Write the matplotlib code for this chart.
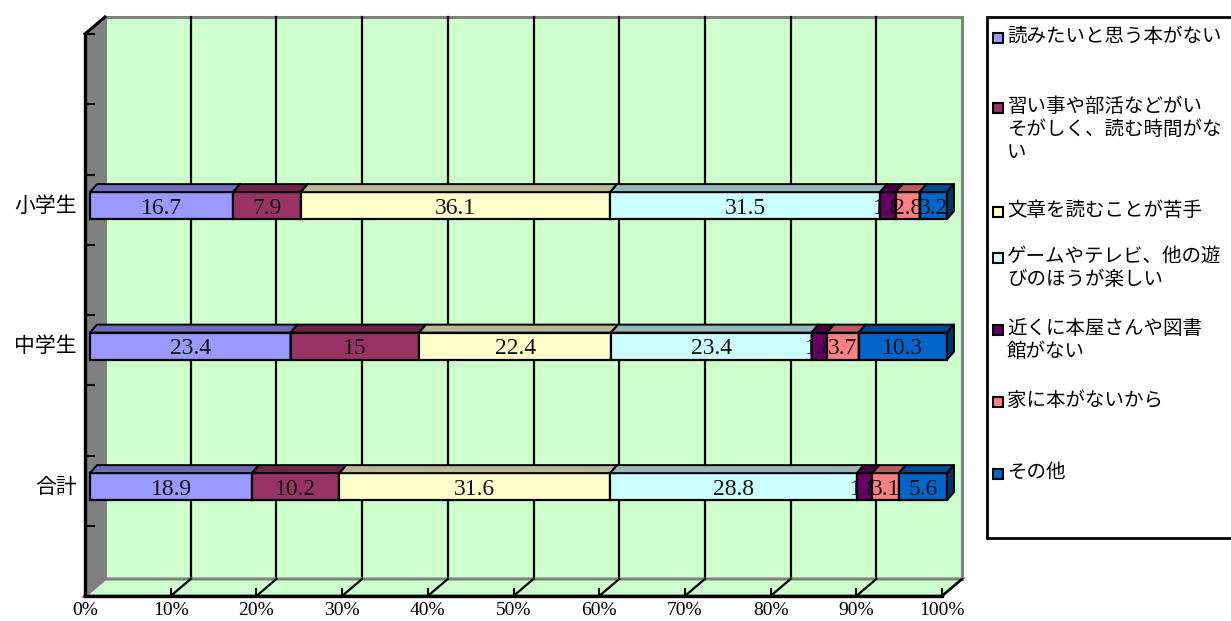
import matplotlib
matplotlib.use("Agg")
import matplotlib.pyplot as plt
import matplotlib.transforms as mtransforms
from matplotlib.patches import Rectangle, Polygon
from matplotlib.collections import PolyCollection
import numpy as np

# ---------------- data ----------------
categories = ["合計", "中学生", "小学生"]
series_names = [
    "読みたいと思う本がない",
    "習い事や部活などがい\nそがしく、読む時間がな\nい",
    "文章を読むことが苦手",
    "ゲームやテレビ、他の遊\nびのほうが楽しい",
    "近くに本屋さんや図書\n館がない",
    "家に本がないから",
    "その他",
]
# values per series, order follows categories (合計, 中学生, 小学生)
s_read_none = [18.9, 23.4, 16.7]
s_busy = [10.2, 15, 7.9]
s_poor = [31.6, 22.4, 36.1]
s_games = [28.8, 23.4, 31.5]
s_no_store = [1.8, 1.8, 1.8]
s_no_books = [3.1, 3.7, 2.8]
s_other = [5.6, 10.3, 3.2]
series_values = [s_read_none, s_busy, s_poor, s_games, s_no_store, s_no_books, s_other]
colors = ["#9999FF", "#993366", "#FFFFCC", "#CCFFFF", "#660066", "#FF8080", "#0066CC"]
xticks = list(range(0, 101, 10))
xtick_labels = [f"{t}%" for t in xticks]

# ---------------- layout ----------------
W, H = 1231, 621
DPI = 100
fig = plt.figure(figsize=(W / DPI, H / DPI), dpi=DPI)
fig.patch.set_facecolor("white")

fx0, fx1, fy_top, fy_bot = 85, 942, 34, 596
ax = fig.add_axes([fx0 / W, (H - fy_bot) / H, (fx1 - fx0) / W, (fy_bot - fy_top) / H])
ax.set_xlim(0, 100)
ax.set_ylim(0, 8)
ax.patch.set_visible(False)

px_x = 100 / (fx1 - fx0)
px_y = 8 / (fy_bot - fy_top)

# wall depth
DX, DY = 20 * px_x, 17 * px_y
green = "#CCFFCC"
gray = "#808080"

# back wall
ax.add_patch(Rectangle((DX, DY), 100, 8, facecolor=green, edgecolor=gray, lw=2.2,
                       zorder=0.5, clip_on=False))
for t in xticks[1:-1]:
    ax.plot([t + DX, t + DX], [DY, 8 + DY], color="black", lw=1.6, zorder=0.55, clip_on=False)
# floor
ax.add_patch(Polygon([(0, 0), (100, 0), (100 + DX, DY), (DX, DY)], closed=True,
                     facecolor=green, edgecolor=gray, lw=2.2, zorder=0.6, clip_on=False))
for t in xticks[1:]:
    ax.plot([t, t + DX], [0, DY], color="black", lw=1.6, zorder=0.65, clip_on=False)
# left wall
ax.add_patch(Polygon([(0, 0), (0, 8), (DX, 8 + DY), (DX, DY)], closed=True,
                     facecolor=gray, edgecolor=gray, lw=1.5, zorder=0.7, clip_on=False))
ax.plot([0, DX], [8, 8 + DY], color="black", lw=2.2, zorder=0.75, clip_on=False)

# spines / ticks
for s in ["top", "right"]:
    ax.spines[s].set_visible(False)
for s in ["left", "bottom"]:
    ax.spines[s].set_linewidth(2.4)
    ax.spines[s].set_color("black")
ax.set_xticks(xticks)
ax.set_xticklabels(xtick_labels, fontfamily="Liberation Serif", fontsize=14)
ax.tick_params(axis="x", direction="in", length=6, width=1.5, pad=4)
ax.set_yticks(range(0, 9))
ax.set_yticklabels([])
ax.tick_params(axis="y", direction="in", length=7, width=1.5)

# bars
front_t = ax.transData + mtransforms.ScaledTranslation(5 / DPI, 4 / DPI, fig.dpi_scale_trans)
ypos = np.array([1.5, 3.5, 5.5])
bh = 27 * px_y
ddx, ddy = 7 * px_x, 8 * px_y


def shade(c, f):
    r, g, b = matplotlib.colors.to_rgb(c)
    return (r * f, g * f, b * f)


left = np.zeros(len(categories))
for i, (vals, col) in enumerate(zip(series_values, colors)):
    vals = np.array(vals, dtype=float)
    z = 3 + 2 * i
    ax.barh(ypos, vals, left=left, height=bh, color=col, edgecolor="black",
            linewidth=1.6, transform=front_t, zorder=z, clip_on=False)
    tops, sides = [], []
    for y, L, v in zip(ypos, left, vals):
        R = L + v
        T = y + bh / 2
        B = y - bh / 2
        tops.append([(L, T), (R, T), (R + ddx, T + ddy), (L + ddx, T + ddy)])
        sides.append([(R, B), (R, T), (R + ddx, T + ddy), (R + ddx, B + ddy)])
    ax.add_collection(PolyCollection(tops, facecolors=[shade(col, 0.72)], edgecolors="black",
                                     linewidths=1.4, transform=front_t, zorder=z, clip_on=False))
    ax.add_collection(PolyCollection(sides, facecolors=[shade(col, 0.5)], edgecolors="black",
                                     linewidths=1.4, transform=front_t, zorder=z, clip_on=False))
    for y, L, v in zip(ypos, left, vals):
        ax.text(L + v / 2, y, f"{v:g}", ha="center", va="center_baseline",
                fontfamily="Liberation Serif", fontsize=17, color="#111111",
                transform=front_t, zorder=z + 1, clip_on=False)
    left = left + vals

# category labels
lab_t = mtransforms.blended_transform_factory(ax.transAxes, ax.transData) + \
    mtransforms.ScaledTranslation(-8 / DPI, 4 / DPI, fig.dpi_scale_trans)
for y, c in zip(ypos, categories):
    ax.text(0, y, c, ha="right", va="center", fontfamily="Noto Sans CJK JP",
            fontsize=15, transform=lab_t)

# legend (manual, Excel-like)
leg_x0, leg_top, leg_bot = 987, 17, 538
fig.patches.append(Rectangle((leg_x0 / W, (H - leg_bot) / H), (W + 10 - leg_x0) / W,
                             (leg_bot - leg_top) / H, transform=fig.transFigure,
                             facecolor="white", edgecolor="black", lw=2, zorder=1))
entry_y = [38, 108, 212, 258, 330, 402, 474]
for name, col, ey in zip(series_names, colors, entry_y):
    fig.patches.append(Rectangle((993 / W, (H - ey - 5) / H), 10 / W, 10 / H,
                                 transform=fig.transFigure, facecolor=col,
                                 edgecolor="black", lw=1.5, zorder=2))
    fig.text(1007 / W, (H - ey + 12) / H, name, ha="left", va="top",
             fontfamily="Noto Sans CJK JP", fontsize=14, linespacing=1.12, zorder=3)

fig.savefig("out.png", dpi=DPI)
